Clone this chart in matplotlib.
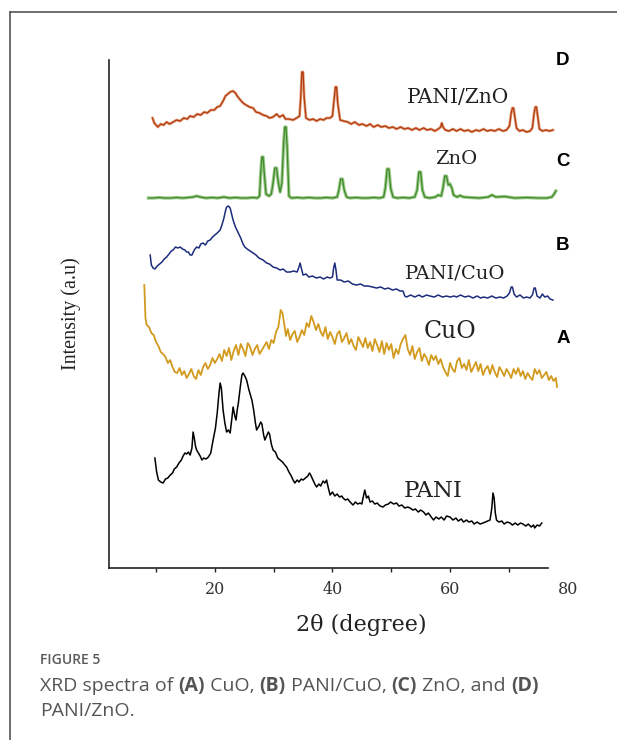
import matplotlib.pyplot as plt
from matplotlib.lines import Line2D

# 2theta (deg) and intensity (a.u., offset traces)
pani_x = [9.8, 10.1, 10.4, 10.8, 11.2, 11.6, 12.0, 12.4, 12.8, 13.1, 13.5, 13.9, 14.3, 14.6, 14.9, 15.2, 15.5, 15.8,
          16.1, 16.3, 16.5, 16.7, 16.9, 17.2, 17.5, 17.8, 18.1, 18.5, 18.9, 19.3, 19.7, 20.1, 20.4, 20.7, 20.9, 21.1,
          21.4, 21.7, 22.0, 22.3, 22.6, 22.9, 23.1, 23.4, 23.6, 23.8, 24.0, 24.3, 24.6, 24.8, 25.1, 25.4, 25.8, 26.1,
          26.3, 26.6, 26.9, 27.1, 27.5, 27.8, 28.0, 28.3, 28.5, 28.8, 29.1, 29.3, 29.6, 29.9, 30.3, 30.7, 31.1, 31.5,
          31.9, 32.2, 32.6, 33.0, 33.3, 33.6, 34.0, 34.3, 34.7, 35.0, 35.4, 35.8, 36.1, 36.3, 36.7, 37.0, 37.3, 37.7,
          38.0, 38.4, 38.7, 39.0, 39.3, 39.6, 40.0, 40.4, 40.8, 41.2, 41.6, 41.8, 42.2, 42.6, 43.0, 43.5, 43.9, 44.3,
          44.7, 45.0, 45.2, 45.5, 45.8, 46.1, 46.4, 46.8, 47.2, 47.6, 48.1, 48.6, 49.0, 49.5, 49.9, 50.4, 50.9, 51.3,
          51.8, 52.3, 52.8, 53.2, 53.7, 54.1, 54.6, 55.0, 55.5, 55.9, 56.3, 56.8, 57.2, 57.6, 58.1, 58.5, 59.0, 59.4,
          60.0, 60.5, 61.0, 61.4, 61.9, 62.3, 62.8, 63.2, 63.7, 64.1, 64.6, 65.1, 65.6, 66.0, 66.4, 66.8, 67.1, 67.3,
          67.5, 67.7, 67.9, 68.3, 68.8, 69.2, 69.7, 70.2, 70.6, 71.1, 71.5, 72.0, 72.4, 72.9, 73.3, 73.8, 74.2, 74.4,
          74.8, 75.2, 75.6]
pani_y = [110, 96, 88, 86, 85, 89, 90, 93, 95, 99, 101, 105, 108, 112, 115, 114, 116, 113,
          120, 136, 130, 122, 118, 115, 112, 108, 110, 109, 111, 115, 128, 140, 155, 175, 185, 180,
          158, 145, 136, 138, 135, 150, 161, 152, 148, 158, 165, 180, 193, 195, 192, 188, 178, 172,
          168, 158, 145, 138, 142, 146, 144, 133, 128, 132, 136, 134, 124, 118, 116, 110, 108, 106,
          103, 101, 96, 92, 88, 85, 88, 86, 89, 88, 90, 92, 95, 93, 88, 84, 81, 84,
          82, 87, 85, 88, 80, 73, 76, 72, 74, 71, 72, 70, 68, 69, 66, 63, 66, 64,
          65, 64, 70, 78, 70, 72, 66, 67, 64, 65, 62, 61, 63, 64, 66, 64, 65, 62,
          63, 60, 61, 60, 58, 59, 56, 58, 56, 53, 55, 51, 48, 51, 49, 51, 48, 52,
          51, 48, 50, 47, 49, 46, 48, 46, 47, 44, 46, 44, 45, 46, 47, 48, 60, 75,
          70, 55, 48, 46, 47, 44, 46, 45, 43, 45, 43, 45, 44, 42, 44, 41, 43, 40,
          43, 42, 45]

cuo_x = [8.0, 8.2, 8.4, 8.8, 9.2, 9.6, 10.0, 10.4, 10.8, 11.2, 11.6, 12.0, 12.4, 12.8, 13.2, 13.6, 14.0, 14.4,
         14.8, 15.2, 15.6, 16.0, 16.4, 16.8, 17.2, 17.6, 18.0, 18.4, 18.8, 19.2, 19.6, 20.0, 20.4, 20.8, 21.2, 21.6,
         22.0, 22.4, 22.8, 23.2, 23.6, 24.0, 24.4, 24.8, 25.2, 25.6, 26.0, 26.4, 26.8, 27.2, 27.6, 28.0, 28.4, 28.8,
         29.2, 29.6, 30.0, 30.4, 30.8, 31.2, 31.5, 31.8, 32.1, 32.4, 32.8, 33.2, 33.6, 34.0, 34.4, 34.8, 35.2, 35.6,
         36.0, 36.4, 36.8, 37.2, 37.6, 38.0, 38.4, 38.8, 39.2, 39.6, 40.0, 40.4, 40.8, 41.2, 41.6, 42.0, 42.4, 42.8,
         43.2, 43.6, 44.0, 44.4, 44.8, 45.2, 45.6, 46.0, 46.4, 46.8, 47.2, 47.6, 48.0, 48.4, 48.8, 49.2, 49.6, 50.0,
         50.4, 50.8, 51.2, 51.6, 52.0, 52.4, 52.8, 53.2, 53.6, 54.0, 54.4, 54.8, 55.2, 55.6, 56.0, 56.4, 56.8, 57.2,
         57.6, 58.0, 58.4, 58.8, 59.2, 59.6, 60.0, 60.4, 60.8, 61.2, 61.6, 62.0, 62.4, 62.8, 63.2, 63.6, 64.0, 64.4,
         64.8, 65.2, 65.6, 66.0, 66.4, 66.8, 67.2, 67.6, 68.0, 68.4, 68.8, 69.2, 69.6, 70.0, 70.4, 70.8, 71.2, 71.6,
         72.0, 72.4, 72.8, 73.2, 73.6, 74.0, 74.4, 74.8, 75.2, 75.6, 76.0, 76.4, 76.8, 77.2, 77.6, 78.0, 78.2]
cuo_y = [283, 250, 243, 241, 235, 233, 226, 222, 216, 214, 211, 205, 208, 201, 196, 195, 200, 193,
         197, 190, 194, 199, 192, 189, 198, 193, 201, 205, 199, 203, 210, 205, 209, 214, 207, 218,
         212, 220, 208, 217, 223, 213, 224, 219, 212, 225, 221, 213, 219, 223, 214, 218, 222, 226,
         219, 228, 225, 236, 241, 258, 255, 244, 232, 239, 228, 234, 237, 226, 231, 238, 233, 245,
         241, 252, 246, 238, 244, 236, 232, 241, 229, 236, 231, 224, 234, 237, 226, 230, 235, 224,
         229, 222, 218, 231, 226, 221, 230, 220, 226, 217, 229, 223, 216, 227, 214, 225, 218, 224,
         210, 219, 214, 224, 229, 233, 219, 213, 222, 209, 216, 220, 207, 214, 210, 203, 213, 208,
         212, 204, 209, 201, 196, 192, 205, 199, 196, 207, 210, 200, 204, 198, 208, 196, 201, 206,
         197, 204, 193, 199, 202, 194, 203, 196, 191, 201, 197, 192, 199, 195, 190, 199, 194, 200,
         192, 197, 189, 195, 191, 188, 199, 194, 198, 190, 193, 196, 188, 192, 187, 190, 181]

pcuo_x = [9.0, 9.2, 9.5, 9.8, 10.2, 10.6, 11.0, 11.4, 11.8, 12.2, 12.6, 12.9, 13.3, 13.7, 14.1, 14.5, 14.9, 15.2,
          15.5, 15.8, 16.1, 16.5, 16.9, 17.3, 17.6, 18.0, 18.4, 18.8, 19.2, 19.6, 20.0, 20.4, 20.9, 21.2, 21.5, 21.8,
          22.0, 22.3, 22.6, 22.9, 23.1, 23.5, 24.0, 24.4, 24.8, 25.1, 25.5, 26.0, 26.5, 27.0, 27.5, 28.2, 28.8, 29.3,
          29.9, 30.5, 31.1, 31.6, 32.2, 32.8, 33.4, 34.0, 34.3, 34.5, 34.7, 35.0, 35.5, 36.0, 36.6, 37.3, 37.9, 38.5,
          39.1, 39.6, 40.0, 40.2, 40.4, 40.6, 40.8, 41.4, 42.0, 42.7, 43.4, 44.1, 44.8, 45.4, 46.1, 46.8, 47.5, 48.2,
          48.9, 49.5, 50.2, 50.9, 51.5, 52.0, 52.3, 52.6, 53.3, 54.0, 54.7, 55.3, 56.0, 56.6, 57.3, 58.0, 58.7, 59.4,
          60.0, 60.7, 61.1, 61.8, 62.5, 63.2, 63.9, 64.6, 65.2, 65.7, 66.4, 67.1, 67.8, 68.5, 69.1, 69.7, 70.1, 70.4,
          70.6, 70.9, 71.3, 71.9, 72.5, 73.0, 73.6, 74.0, 74.3, 74.5, 74.8, 75.3, 75.7, 76.1, 76.6, 77.0, 77.5]
pcuo_y = [313, 303, 300, 299, 302, 304, 306, 309, 311, 314, 317, 318, 321, 320, 321, 319, 318, 316,
          316, 313, 313, 318, 321, 320, 324, 325, 323, 327, 328, 331, 333, 335, 338, 343, 349, 357,
          361, 362, 360, 353, 348, 341, 335, 330, 324, 321, 319, 317, 315, 313, 310, 308, 305, 304,
          301, 300, 298, 299, 296, 296, 297, 296, 301, 305, 300, 293, 294, 291, 292, 290, 291, 289,
          291, 290, 291, 300, 305, 298, 288, 288, 286, 287, 284, 283, 284, 282, 282, 281, 280, 281,
          279, 280, 278, 279, 277, 277, 272, 271, 273, 271, 273, 271, 273, 272, 271, 273, 271, 272,
          271, 272, 271, 273, 271, 272, 270, 272, 270, 271, 270, 272, 270, 271, 270, 272, 275, 281,
          281, 274, 271, 273, 270, 271, 270, 273, 280, 280, 272, 270, 274, 271, 272, 269, 268]

zno_x = [8.7, 9.5, 10.5, 11.5, 12.5, 13.5, 14.5, 15.5, 16.3, 16.9, 17.5, 18.5, 19.5, 20.5, 21.5, 22.5, 23.5, 24.5,
         25.5, 26.5, 27.2, 27.6, 27.8, 28.0, 28.2, 28.4, 28.7, 29.2, 29.6, 29.9, 30.2, 30.5, 30.8, 31.1, 31.4, 31.7,
         31.9, 32.1, 32.3, 32.6, 33.0, 34.0, 35.0, 36.0, 37.0, 38.0, 39.0, 40.0, 40.8, 41.1, 41.4, 41.7, 42.0, 42.4,
         43.0, 44.0, 45.0, 46.0, 47.0, 48.0, 48.7, 49.0, 49.3, 49.6, 49.9, 50.3, 51.0, 52.0, 53.0, 54.0, 54.4, 54.7,
         55.0, 55.3, 55.7, 56.5, 57.5, 58.0, 58.5, 58.8, 59.1, 59.4, 59.7, 60.0, 60.3, 60.6, 61.2, 61.7, 62.3, 63.5,
         65.0, 66.5, 67.1, 67.8, 69.3, 71.0, 73.0, 75.0, 76.5, 77.3, 77.7, 78.0]
zno_y = [370, 370, 370.5, 370, 370, 370.5, 370, 370.5, 371, 372, 371, 370, 370.5, 370, 371, 370, 370.5, 370,
         370, 370.5, 370, 372, 395, 411, 411, 395, 374, 372, 374, 385, 400, 400, 385, 376, 385, 425,
         441, 441, 420, 372, 370, 370.5, 370, 370.5, 370, 370, 370.5, 370, 371, 378, 389, 389, 378, 371,
         370, 370.5, 370, 370, 370.5, 370, 371, 380, 399, 399, 380, 371, 370, 370.5, 370, 371, 378, 396,
         396, 378, 371, 370, 371, 373, 372, 380, 392, 392, 383, 384, 380, 373, 371, 372.5, 371, 370.5,
         370, 371, 373, 371, 371.5, 370, 370.5, 370, 370, 371, 374, 377]

pzno_x = [9.4, 9.7, 10.0, 10.3, 10.8, 11.3, 11.8, 12.3, 12.9, 13.5, 14.1, 14.7, 15.3, 15.8, 16.4, 17.0, 17.6, 18.2,
          18.7, 19.3, 19.9, 20.4, 20.9, 21.4, 21.8, 22.2, 22.6, 23.1, 23.5, 23.8, 24.2, 24.8, 25.3, 25.9, 26.5, 27.0,
          27.6, 28.2, 28.8, 29.3, 29.9, 30.5, 31.0, 31.6, 32.0, 32.6, 33.3, 33.9, 34.4, 34.6, 34.8, 35.0, 35.2, 35.5,
          36.1, 36.7, 37.3, 37.9, 38.5, 39.0, 39.6, 40.0, 40.3, 40.5, 40.7, 40.9, 41.3, 41.9, 42.6, 43.2, 43.8, 44.5,
          45.1, 45.8, 46.4, 47.0, 47.7, 48.3, 49.0, 49.6, 50.3, 50.9, 51.6, 52.2, 52.9, 53.5, 54.2, 54.8, 55.5, 56.1,
          56.8, 57.4, 58.0, 58.4, 58.6, 58.8, 59.2, 59.8, 60.5, 61.1, 61.8, 62.4, 63.1, 63.7, 64.4, 65.0, 65.7, 66.3,
          67.0, 67.6, 68.3, 69.0, 69.6, 70.1, 70.4, 70.6, 70.8, 71.0, 71.3, 71.8, 72.4, 73.0, 73.6, 74.0, 74.3, 74.5,
          74.7, 74.9, 75.2, 75.7, 76.3, 76.9, 77.5]
pzno_y = [450, 445, 443, 441, 444, 443, 446, 444, 446, 448, 447, 450, 449, 452, 451, 454, 453, 456,
          455, 458, 458, 461, 462, 467, 472, 474, 476, 477, 475, 472, 469, 465, 463, 461, 460, 456,
          455, 453, 452, 450, 451, 454, 451, 453, 449, 449, 448, 450, 452, 470, 496, 496, 470, 450,
          448, 449, 447, 449, 448, 450, 450, 452, 470, 481, 481, 465, 448, 447, 446, 444, 446, 443,
          444, 442, 444, 441, 443, 441, 442, 440, 441, 439, 441, 439, 440, 438, 440, 438, 440, 438,
          439, 437, 439, 441, 445, 441, 438, 437, 439, 437, 439, 437, 438, 436, 438, 437, 439, 437,
          438, 437, 439, 437, 438, 442, 455, 460, 460, 452, 440, 437, 438, 436, 437, 440, 455, 461,
          461, 452, 439, 437, 438, 437, 438]

series_names = ['PANI', 'CuO', 'PANI/CuO', 'ZnO', 'PANI/ZnO']
panel_letters = ['A', 'B', 'C', 'D']
xtick_vals = [10, 20, 30, 40, 50, 60, 70, 80]
xtick_text = ['', '20', '', '40', '', '60', '', '80']

fig = plt.figure(figsize=(6.17, 7.40), dpi=100)
ax = fig.add_axes([0.1767, 0.2324, 0.7433, 0.6865])

# light under-stroke gives the doubled look of the scanned ZnO traces
ax.plot(zno_x, zno_y, color='#9cc98a', lw=2.4, solid_joinstyle='round')
ax.plot(zno_x, zno_y, color='#3f8a2a', lw=0.9)
ax.plot(pzno_x, pzno_y, color='#e3a27e', lw=2.0, solid_joinstyle='round')
ax.plot(pzno_x, pzno_y, color='#b23a0e', lw=0.9)
ax.plot(pcuo_x, pcuo_y, color='#1c2c7c', lw=1.1)
ax.plot(cuo_x, cuo_y, color='#d29a1e', lw=1.3)
ax.plot(pani_x, pani_y, color='black', lw=1.1)

ax.set_xlim(2, 80)
ax.set_ylim(0, 508)
ax.spines['top'].set_visible(False)
ax.spines['right'].set_visible(False)
ax.spines['bottom'].set_bounds(2, 76.6)
for s in ['left', 'bottom']:
    ax.spines[s].set_linewidth(1.2)
    ax.spines[s].set_color('#222222')
ax.set_yticks([])
ax.set_xticks(xtick_vals)
ax.set_xticklabels(xtick_text, fontfamily='DejaVu Serif', fontsize=11.5, color='#333333')
ax.tick_params(axis='x', direction='out', length=3, width=1, pad=6, color='#222222')
ax.xaxis.get_major_ticks()[-1].tick1line.set_visible(False)

ax.set_xlabel('2θ (degree)', fontfamily='DejaVu Serif', fontsize=16, color='#222222', labelpad=8)
ax.xaxis.set_label_coords(0.55, -0.09)
ax.set_ylabel('Intensity (a.u)', fontfamily='Liberation Serif', fontsize=14.5, color='#222222', labelpad=20)

# curve names
serif = 'DejaVu Serif'
ax.text(57.1, 77, series_names[0], fontfamily=serif, fontsize=16.5, color='#222222', ha='center', va='center')
ax.text(60.0, 237, series_names[1], fontfamily=serif, fontsize=17, color='#222222', ha='center', va='center')
ax.text(60.8, 295, series_names[2], fontfamily=serif, fontsize=14, color='#222222', ha='center', va='center')
ax.text(61.0, 409, series_names[3], fontfamily=serif, fontsize=14, color='#222222', ha='center', va='center')
ax.text(61.3, 471, series_names[4], fontfamily=serif, fontsize=14.5, color='#222222', ha='center', va='center')

# panel letters
letter_y = [230, 323, 407, 508]
for lab, yy in zip(panel_letters, letter_y):
    ax.text(79.2, yy, lab, fontfamily='Liberation Sans', fontweight='bold', fontsize=13.5,
            color='black', ha='center', va='center', clip_on=False)

# page frame
fig.add_artist(Line2D([10 / 617, 10 / 617], [0, 1 - 12 / 740], transform=fig.transFigure, color='#555555', lw=1.2))
fig.add_artist(Line2D([10 / 617, 1], [1 - 12 / 740, 1 - 12 / 740], transform=fig.transFigure, color='#555555', lw=1.2))

# caption
cap = 'Open Sans'
fig.text(40 / 617, 1 - 660 / 740, 'FIGURE 5', fontfamily=cap, fontweight='semibold', fontsize=10,
         color='#5a5a5a', va='center')
parts = [('XRD spectra of ', 'normal'), ('(A)', 'bold'), (' CuO, ', 'normal'), ('(B)', 'bold'),
         (' PANI/CuO, ', 'normal'), ('(C)', 'bold'), (' ZnO, and ', 'normal'), ('(D)', 'bold')]
renderer = fig.canvas.get_renderer()
xpos = 40
for txt, w in parts:
    t = fig.text(xpos / 617, 1 - 686 / 740, txt, fontfamily=cap, fontweight=w, fontsize=14,
                 color='#555555', va='center')
    xpos += t.get_window_extent(renderer=renderer).width
fig.text(40 / 617, 1 - 711 / 740, 'PANI/ZnO.', fontfamily=cap, fontsize=14, color='#555555', va='center')

fig.savefig('out.png', dpi=100)
